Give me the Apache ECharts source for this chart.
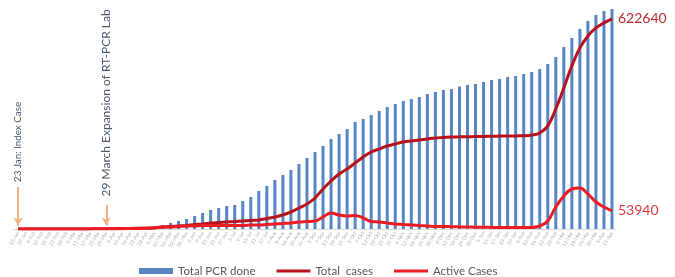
<!DOCTYPE html>
<html>
<head>
<meta charset="utf-8">
<script src="https://cdn.jsdelivr.net/npm/echarts@6/dist/echarts.min.js"></script>
<style>
	html, body { margin: 0; padding: 0; background: #fff; }
	#zoom { width: 675px; height: 277px; }
</style>
</head>
<body>
<div id="zoom"></div>
<script>
	// x axis dates (roughly every 6 days from the index case)
	const dates = [
		'23-Jan', '29-Jan', '4-Feb', '10-Feb', '16-Feb', '22-Feb', '28-Feb', '5-Mar', '11-Mar', '17-Mar',
		'23-Mar', '29-Mar', '4-Apr', '10-Apr', '16-Apr', '22-Apr', '28-Apr', '4-May', '10-May', '16-May',
		'22-May', '28-May', '3-Jun', '9-Jun', '15-Jun', '21-Jun', '27-Jun', '3-Jul', '9-Jul', '15-Jul',
		'21-Jul', '27-Jul', '2-Aug', '8-Aug', '14-Aug', '20-Aug', '26-Aug', '1-Sep', '7-Sep', '13-Sep',
		'19-Sep', '25-Sep', '1-Oct', '7-Oct', '13-Oct', '19-Oct', '25-Oct', '31-Oct', '6-Nov', '12-Nov',
		'18-Nov', '24-Nov', '30-Nov', '6-Dec', '12-Dec', '18-Dec', '24-Dec', '30-Dec', '5-Jan', '11-Jan',
		'17-Jan', '23-Jan', '29-Jan', '4-Feb', '10-Feb', '16-Feb', '22-Feb', '28-Feb', '6-Mar', '12-Mar',
		'18-Mar', '24-Mar', '30-Mar', '5-Apr', '11-Apr'
	]

	// Total PCR done (thousands)
	const pcrDone = [
		0, 0, 0, 0, 0, 0, 0, 0, 0, 0,
		0, 0, 0, 0, 0, 0, 0, 0, 80, 120,
		160, 200, 260, 320, 380, 420, 460, 480, 560, 640,
		760, 860, 980, 1080, 1180, 1300, 1420, 1540, 1660, 1800,
		1900, 2000, 2140, 2200, 2280, 2360, 2440, 2500, 2560, 2600,
		2640, 2700, 2740, 2780, 2800, 2850, 2880, 2900, 2940, 2980,
		3000, 3040, 3060, 3100, 3140, 3200, 3300, 3440, 3640, 3820,
		4000, 4160, 4280, 4360, 4400
	]

	// Total cases
	const totalCases = [
		0, 2, 16, 16, 16, 150, 200, 270, 330, 420,
		600, 800, 1000, 1300, 1700, 2200, 2900, 3800, 5900, 7400,
		8900, 10400, 13300, 14800, 17800, 19300, 20800, 22200, 23700, 25200,
		26700, 31100, 35600, 41500, 50400, 62300, 74100, 91900, 118600, 142300,
		163100, 177900, 195700, 213500, 228300, 237200, 246100, 252000, 258000, 260900,
		263900, 266900, 269800, 271300, 272800, 273100, 273500, 273800, 274100, 275000,
		275300, 275600, 276000, 276500, 278700, 284600, 305400, 355800, 418100, 483300,
		536700, 572200, 596000, 610800, 622640
	]

	// Active cases
	const activeCases = [
		0, 2, 16, 16, 16, 140, 180, 240, 290, 360,
		500, 650, 800, 1000, 1300, 1700, 2300, 3000, 5900, 5900,
		7400, 8900, 8900, 10400, 10400, 10400, 10400, 10400, 10400, 11900,
		11900, 13300, 14800, 16300, 17800, 20800, 22200, 23700, 35600, 47400,
		41500, 38500, 40000, 32600, 22200, 20800, 17800, 14800, 13300, 11900,
		10400, 8900, 7400, 7400, 7000, 6500, 6000, 5500, 5000, 4800,
		4600, 4500, 4400, 4400, 4500, 8900, 23700, 65200, 97800, 118600,
		121600, 103800, 80100, 65200, 53940
	]

	// events (category index)
	const INDEX_CASE = 0
	const LAB_EXPANSION = 11

	const FONT = 'Lato'

	let myChart = echarts.init(document.getElementById('zoom'))

	const option = {
		animation: false,
		legend: {
			left: 134,
			top: 260,
			itemGap: 21,
			itemWidth: 34,
			itemHeight: 6,
			textStyle: {
				color: '#595959',
				fontSize: 11.5,
				fontFamily: FONT
			},
			data: [
				{ name: 'Total PCR done', icon: 'rect' },
				{ name: 'Total  cases', icon: 'path://M0,0h34v3h-34z' },
				{ name: 'Active Cases', icon: 'path://M0,0h34v3h-34z' }
			]
		},
		grid: {
			left: 14,
			right: 59,
			top: 8,
			bottom: 48,
			containLabel: false
		},
		xAxis: {
			type: 'category',
			data: dates,
			axisTick: { show: false },
			axisLine: { lineStyle: { color: '#d9d9d9' } },
			axisLabel: {
				interval: 0,
				rotate: 60,
				fontSize: 5,
				margin: 3,
				color: '#b0b0b0',
				fontFamily: FONT
			}
		},
		yAxis: [{
			type: 'value',
			show: false,
			min: 0,
			max: 4420
		}, {
			type: 'value',
			show: false,
			min: 0,
			max: 655000
		}],
		series: [{
			name: 'Total PCR done',
			type: 'bar',
			barWidth: 3,
			itemStyle: { color: '#5886c4' },
			data: pcrDone
		}, {
			name: 'Total  cases',
			type: 'line',
			yAxisIndex: 1,
			smooth: 0.4,
			showSymbol: false,
			lineStyle: { color: '#b8121b', width: 3 },
			itemStyle: { color: '#b8121b' },
			endLabel: {
				show: true,
				formatter: '{c}',
				distance: 6,
				color: '#c0282d',
				fontSize: 14,
				fontFamily: FONT
			},
			// arrows for the two events
			markLine: {
				silent: true,
				symbol: ['none', 'arrow'],
				symbolSize: [7, 8],
				lineStyle: { color: '#f4b183', width: 2, type: 'solid' },
				label: { show: false },
				data: [
					[{ coord: [INDEX_CASE, 124500] }, { coord: [INDEX_CASE, 10400] }],
					[{ coord: [LAB_EXPANSION, 71200] }, { coord: [LAB_EXPANSION, 10400] }]
				]
			},
			markPoint: {
				silent: true,
				symbol: 'circle',
				symbolSize: 0,
				label: {
					show: true,
					position: 'inside',
					rotate: 90,
					formatter: '{b}',
					color: '#4a5a70',
					fontFamily: FONT
				},
				data: [
					{ name: '23 Jan: Index Case', coord: [INDEX_CASE, 258000], label: { fontSize: 9.8 } },
					{ name: '29 March Expansion of RT-PCR Lab', coord: [LAB_EXPANSION, 373600], label: { fontSize: 12 } }
				]
			},
			data: totalCases
		}, {
			name: 'Active Cases',
			type: 'line',
			yAxisIndex: 1,
			smooth: 0.4,
			showSymbol: false,
			lineStyle: { color: '#ec1c24', width: 3 },
			itemStyle: { color: '#ec1c24' },
			endLabel: {
				show: true,
				formatter: '{c}',
				distance: 6,
				color: '#e0393e',
				fontSize: 14,
				fontFamily: FONT
			},
			data: activeCases
		}]
	}

	myChart.setOption(option)
</script>
</body>
</html>
